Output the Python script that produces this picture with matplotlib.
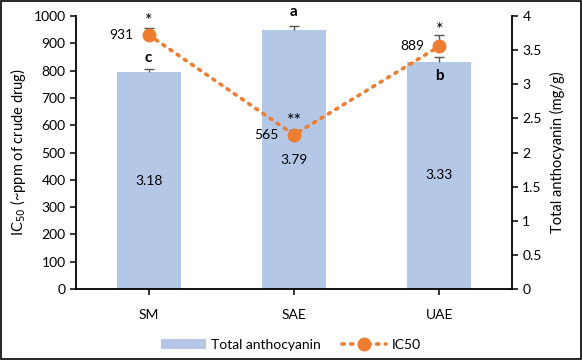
import numpy as np
import matplotlib.pyplot as plt
from matplotlib.patches import Rectangle

plt.rcParams['font.family'] = ['Lato', 'DejaVu Sans']
plt.rcParams['font.size'] = 10

methods = ['SM', 'SAE', 'UAE']
anthocyanin = [3.18, 3.79, 3.33]
anthocyanin_err = [0.05, 0.07, 0.07]
ic50 = [931, 565, 889]
ic50_err = [25, 18, 40]
letters = ['c', 'a', 'b']
stars = ['*', '**', '*']

x = np.arange(len(methods))
bar_color = '#B4C7E7'
line_color = '#ED7D31'
err_color = '#555555'


def plus_errorbar(a, xs, ys, errs):
    """Excel style 'plus' error bar: stem and one cap only"""
    tops = np.array(ys) + np.array(errs)
    a.vlines(xs, ys, tops, color=err_color, linewidth=1, zorder=1.5)
    a.plot(xs, tops, linestyle='none', marker='_', markersize=7,
           markeredgewidth=1, color=err_color, zorder=1.5)


fig = plt.figure(figsize=(5.82, 3.6), dpi=100)
ax = fig.add_axes([0.1306, 0.197, 0.749, 0.7586])
ax2 = ax.twinx()
# IC50 axis on top of the bars
ax.set_zorder(ax2.get_zorder() + 1)
ax.patch.set_visible(False)

# bars on the right (anthocyanin) axis
bars = ax2.bar(x, anthocyanin, 0.44, color=bar_color, label='Total anthocyanin')
plus_errorbar(ax2, x, anthocyanin, anthocyanin_err)
ax2.set_ylim(0, 4)
ax2.set_yticks(np.arange(0, 4.01, 0.5))
ax2.set_yticklabels(['0', '0.5', '1', '1.5', '2', '2.5', '3', '3.5', '4'])
ax2.set_ylabel('Total anthocyanin (mg/g)', fontsize=10.5, labelpad=6)

# value labels in the middle of each bar
for xi, v in zip(x, anthocyanin):
    ax2.text(xi, v / 2, '%.2f' % v, ha='center', va='center', fontsize=10)

# IC50 line on the left axis
plus_errorbar(ax, x, ic50, ic50_err)
line, = ax.plot(x, ic50, linestyle=(0, (0.6, 1.8)), dash_capstyle='round',
                color=line_color, linewidth=2.6, marker='o', markersize=9,
                label='IC50', zorder=2)
ax.set_ylim(0, 1000)
ax.set_yticks(np.arange(0, 1001, 100))
ax.set_xlim(-0.5, 2.5)
ax.set_xticks(x)
ax.set_xticklabels(methods)
ax.tick_params(axis='x', length=0, pad=10)
ax.set_ylabel('IC$_{50}$ (~ppm of crude drug)', fontsize=10.5, labelpad=4)

for xi, v in zip(x, ic50):
    ax.annotate(str(v), (xi, v), xytext=(-11, 0), textcoords='offset points',
                ha='right', va='center', fontsize=10)

# significance letters and stars
letter_offsets = [(0, 10), (0, 13), (0, -10)]
for xi, v, l, off in zip(x, anthocyanin, letters, letter_offsets):
    ax2.annotate(l, (xi, v), xytext=off, textcoords='offset points',
                 ha='center', va='center', fontsize=11, fontweight='bold')
star_offsets = [(0, 10), (0, 10), (0, 12)]
for xi, v, s, off in zip(x, ic50, stars, star_offsets):
    ax.annotate(s, (xi, v), xytext=off, textcoords='offset points',
                ha='center', va='center', fontsize=13)

for a in (ax, ax2):
    a.spines['top'].set_visible(False)
    for s in ('left', 'right', 'bottom'):
        a.spines[s].set_linewidth(1.3)
    a.tick_params(width=1.1, length=4)
ax.spines['right'].set_visible(False)
ax2.spines['left'].set_visible(False)
ax2.spines['bottom'].set_visible(False)

fig.legend(handles=[bars, line], loc='lower center', ncol=2, frameon=False,
           bbox_to_anchor=(0.5, -0.01), columnspacing=1.5, handlelength=3.2,
           handletextpad=0.4, fontsize=10)

fig.patches.append(Rectangle((0.002, 0.003), 0.996, 0.994, transform=fig.transFigure,
                             fill=False, edgecolor='black', linewidth=1.2))

fig.savefig('out.png', dpi=100)
